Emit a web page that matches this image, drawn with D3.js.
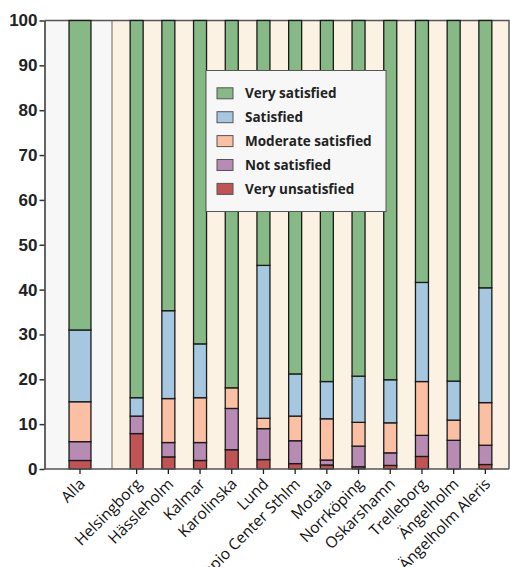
<!DOCTYPE html>
<html>
<head>
<meta charset="utf-8">
<script src="https://cdn.jsdelivr.net/npm/d3@7"></script>
<style>
  body { margin: 0; background: #fff; }
  svg { display: block; }
</style>
</head>
<body>
<svg id="chart" width="510" height="567"></svg>
<script>
// Satisfaction shares (%) per clinic, stacked from the bottom up
const categories = ["Alla", "Helsingborg", "Hässleholm", "Kalmar", "Karolinska", "Lund",
  "Capio Center Sthlm", "Motala", "Norrköping", "Oskarshamn", "Trelleborg", "Ängelholm", "Ängelholm Aleris"];
const veryUnsatisfied = [1.9, 7.9, 2.7, 1.9, 4.3, 2.1, 1.2, 0.9, 0.5, 0.8, 2.8, 0.0, 1.0];
const notSatisfied    = [4.2, 3.9, 3.2, 4.0, 9.2, 6.9, 5.1, 1.1, 4.6, 2.8, 4.7, 6.4, 4.3];
const moderate        = [8.9, 0.0, 9.8, 10.0, 4.6, 2.3, 5.5, 9.2, 5.3, 6.7, 12.0, 4.5, 9.5];
const satisfied       = [16.0, 4.1, 19.6, 12.0, 0.0, 34.1, 9.4, 8.3, 10.3, 9.6, 22.1, 8.7, 25.6];
const verySatisfied   = [69.0, 84.1, 64.7, 72.1, 81.9, 54.6, 78.8, 80.5, 79.3, 80.1, 58.4, 80.4, 59.6];
const yTicks = [0, 10, 20, 30, 40, 50, 60, 70, 80, 90, 100];

const seriesNames = ["Very unsatisfied", "Not satisfied", "Moderate satisfied", "Satisfied", "Very satisfied"];
const seriesColors = ["#c05353", "#b88bb4", "#fbbfa3", "#a5c7df", "#86b985"];

const rows = categories.map((c, i) => ({
  cat: c,
  "Very unsatisfied": veryUnsatisfied[i],
  "Not satisfied": notSatisfied[i],
  "Moderate satisfied": moderate[i],
  "Satisfied": satisfied[i],
  "Very satisfied": verySatisfied[i]
}));

const svg = d3.select("#chart");
const plotLeft = 44.5, plotRight = 509, plotTop = 20.5, plotBottom = 469;
const split = 112;

const y = d3.scaleLinear().domain([0, 100]).range([plotBottom, plotTop]);
const xAll = d3.scaleBand().domain(["Alla"]).range([48, 112]).padding(0.49);
const xClinic = d3.scaleBand().domain(categories.slice(1)).range([120.8, 501.2])
  .paddingInner(0.59).paddingOuter(0.295);
const xPos = c => c === "Alla" ? xAll(c) : xClinic(c);
const xW = c => c === "Alla" ? xAll.bandwidth() : xClinic.bandwidth();

// Panel backgrounds
svg.append("rect").attr("x", plotLeft).attr("y", plotTop).attr("width", split - plotLeft).attr("height", plotBottom - plotTop)
  .attr("fill", "#f7f7f7");
svg.append("rect").attr("x", split).attr("y", plotTop).attr("width", plotRight - split).attr("height", plotBottom - plotTop)
  .attr("fill", "#fbf2e3");
svg.append("line").attr("x1", split).attr("x2", split).attr("y1", plotTop).attr("y2", plotBottom)
  .attr("stroke", "#9a958d").attr("stroke-width", 1.5);
svg.append("path")
  .attr("d", `M${plotLeft},${plotTop}H${plotRight}V${plotBottom}`)
  .attr("fill", "none").attr("stroke", "#555").attr("stroke-width", 1.5);

// Stacked bars
const stack = d3.stack().keys(seriesNames)(rows);
svg.append("g").selectAll("g").data(stack).join("g")
  .attr("fill", (d, i) => seriesColors[i])
  .selectAll("rect").data(d => d.filter(s => s[1] - s[0] > 0)).join("rect")
  .attr("x", d => xPos(d.data.cat))
  .attr("width", d => xW(d.data.cat))
  .attr("y", d => y(d[1]))
  .attr("height", d => y(d[0]) - y(d[1]))
  .attr("stroke", "#1a1a1a").attr("stroke-width", 1.3);

// Y axis
const yAxis = svg.append("g").attr("transform", `translate(${plotLeft},0)`)
  .call(d3.axisLeft(y).tickValues(yTicks).tickSize(5).tickPadding(2).tickSizeOuter(0));
yAxis.select(".domain").attr("stroke", "#333").attr("stroke-width", 1.5);
yAxis.selectAll(".tick line").attr("stroke", "#333").attr("stroke-width", 1.5);
yAxis.selectAll("text").attr("fill", "#222")
  .style("font-family", "'Liberation Sans', Arial, sans-serif")
  .style("font-weight", "bold").style("font-size", "17px");

// X axis
svg.append("line").attr("x1", plotLeft).attr("x2", plotRight).attr("y1", plotBottom).attr("y2", plotBottom)
  .attr("stroke", "#555").attr("stroke-width", 1.5);
const xt = svg.append("g");
categories.forEach(c => {
  const cx = xPos(c) + xW(c) / 2;
  xt.append("line").attr("x1", cx).attr("x2", cx).attr("y1", plotBottom).attr("y2", plotBottom + 5)
    .attr("stroke", "#222").attr("stroke-width", 1.3);
  xt.append("text")
    .attr("transform", `translate(${cx + 6},${plotBottom + 16}) rotate(-45)`)
    .attr("text-anchor", "end")
    .attr("fill", "#111")
    .style("font-family", "'Open Sans', sans-serif")
    .style("font-size", "15.5px")
    .text(c);
});

// Legend
const lg = svg.append("g");
lg.append("rect").attr("x", 206).attr("y", 70.5).attr("width", 180).attr("height", 141)
  .attr("fill", "#f7f7f7").attr("stroke", "#555").attr("stroke-width", 1);
const legendOrder = seriesNames.slice().reverse();
legendOrder.forEach((name, i) => {
  const cy = 93.3 + i * 23.9;
  lg.append("rect").attr("x", 217).attr("y", cy - 5.5).attr("width", 16).attr("height", 11)
    .attr("fill", seriesColors[seriesNames.indexOf(name)]).attr("stroke", "#555").attr("stroke-width", 1);
  lg.append("text").attr("x", 245).attr("y", cy).attr("dy", "0.35em")
    .attr("fill", "#222")
    .style("font-family", "'Open Sans', sans-serif")
    .style("font-weight", "bold").style("font-size", "13.5px")
    .text(name);
});
</script>
</body>
</html>
